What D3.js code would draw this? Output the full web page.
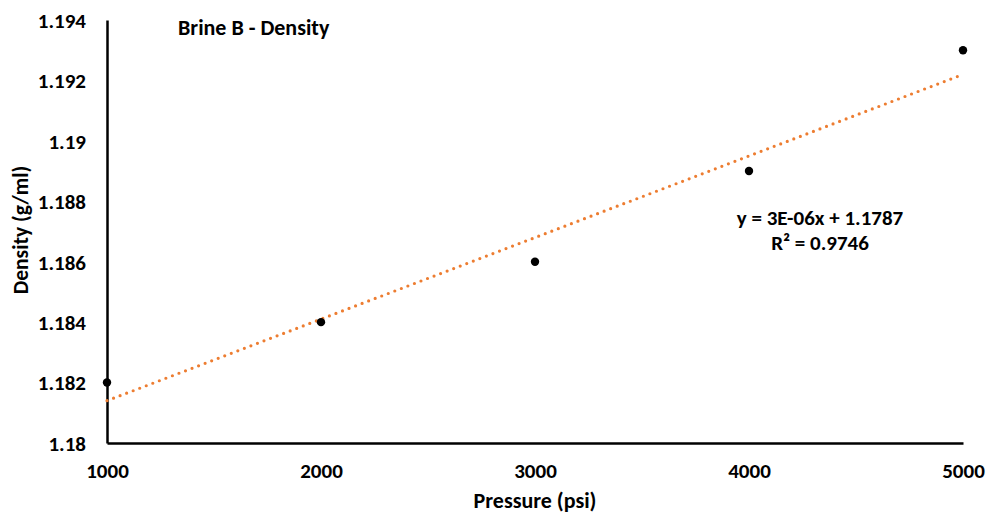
<!DOCTYPE html>
<html>
<head>
<meta charset="utf-8">
<script src="https://cdn.jsdelivr.net/npm/d3@7"></script>
<style>
  html, body { margin: 0; padding: 0; background: #fff; }
  svg text { font-family: Carlito, "Liberation Sans", Arial, sans-serif; font-weight: bold; fill: #000; }
</style>
</head>
<body>
<svg id="chart" width="990" height="515"></svg>
<script>
// Brine B density measurements
const pressure = [1000, 2000, 3000, 4000, 5000];
const density = [1.182, 1.184, 1.186, 1.189, 1.193];
const xTicks = [1000, 2000, 3000, 4000, 5000];
const yTicks = [1.18, 1.182, 1.184, 1.186, 1.188, 1.19, 1.192, 1.194];
const yTickLabels = ["1.18", "1.182", "1.184", "1.186", "1.188", "1.19", "1.192", "1.194"];
const chartTitle = "Brine B - Density";
const xTitle = "Pressure (psi)";
const yTitle = "Density (g/ml)";
const eqLabel = "y = 3E-06x + 1.1787";
const r2Label = "R² = 0.9746";

const svg = d3.select("#chart");
const plotLeft = 107, plotRight = 963, plotTop = 20, plotBottom = 443;

const x = d3.scaleLinear().domain([1000, 5000]).range([plotLeft, plotRight]);
const y = d3.scaleLinear().domain([1.18, 1.194]).range([plotBottom, plotTop]);

// Least-squares linear trend
const mx = d3.mean(pressure), my = d3.mean(density);
const slope = d3.sum(pressure, (p, i) => (p - mx) * (density[i] - my)) / d3.sum(pressure, p => (p - mx) ** 2);
const intercept = my - slope * mx;

// Y axis
const yAxis = d3.axisLeft(y).tickValues(yTicks).tickSize(0).tickPadding(21)
  .tickFormat((d, i) => yTickLabels[i]);
const gy = svg.append("g").attr("transform", `translate(${plotLeft},0)`).call(yAxis);
gy.select(".domain").attr("stroke", "#000").attr("stroke-width", 2.5);
gy.selectAll("text").style("font-size", "21px").attr("dy", "0.35em");

// X axis
const xAxis = d3.axisBottom(x).tickValues(xTicks).tickSize(0).tickPadding(20).tickFormat(d3.format("d"));
const gx = svg.append("g").attr("transform", `translate(0,${plotBottom})`).call(xAxis);
gx.select(".domain").attr("stroke", "#000").attr("stroke-width", 2.5);
gx.selectAll("text").style("font-size", "21px");

// Trendline (dotted)
svg.append("line")
  .attr("x1", x(1000)).attr("y1", y(intercept + slope * 1000))
  .attr("x2", x(5000)).attr("y2", y(intercept + slope * 5000))
  .attr("stroke", "#ED7D31").attr("stroke-width", 3.2)
  .attr("stroke-linecap", "round").attr("stroke-dasharray", "0,7");

// Data points
svg.append("g").selectAll("circle").data(pressure).join("circle")
  .attr("cx", d => x(d)).attr("cy", (d, i) => y(density[i])).attr("r", 4.2).attr("fill", "#000");

// Titles and labels
svg.append("text").attr("x", 178).attr("y", 35).style("font-size", "22px").text(chartTitle);
svg.append("text").attr("x", 535).attr("y", 508).attr("text-anchor", "middle").style("font-size", "22px").text(xTitle);
svg.append("text").attr("transform", `translate(28,230) rotate(-90)`).attr("text-anchor", "middle").style("font-size", "21.5px").text(yTitle);
svg.append("text").attr("x", 820).attr("y", 225).attr("text-anchor", "middle").style("font-size", "21px").text(eqLabel);
svg.append("text").attr("x", 820).attr("y", 250).attr("text-anchor", "middle").style("font-size", "21px").text(r2Label);
</script>
</body>
</html>
